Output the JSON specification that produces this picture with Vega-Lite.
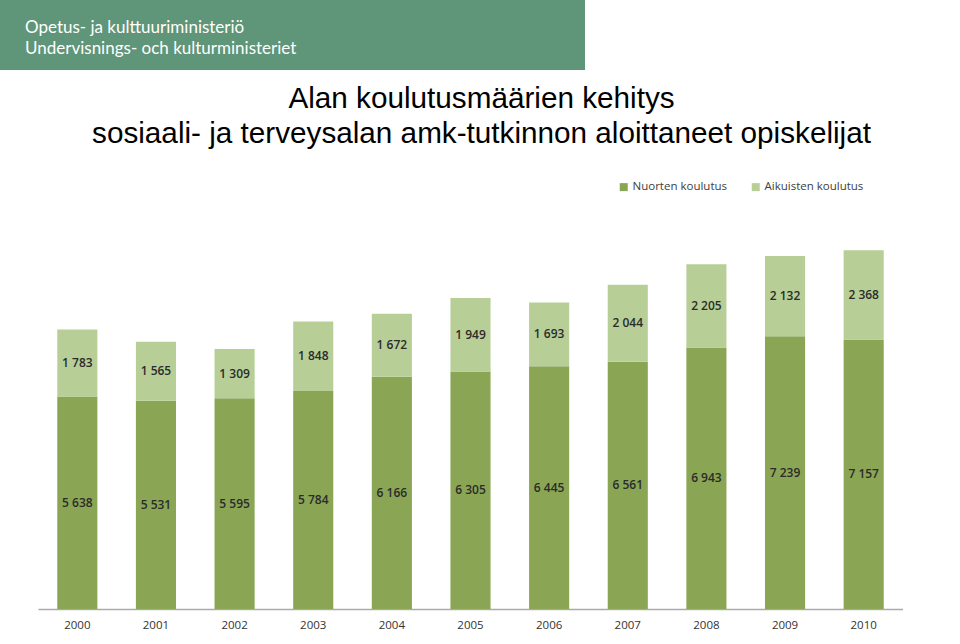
{
  "$schema": "https://vega.github.io/schema/vega-lite/v6.json",
  "padding": 0,
  "spacing": 14,
  "background": "white",
  "config": {
    "view": {"stroke": null},
    "locale": {"number": {"decimal": ",", "thousands": " ", "grouping": [3], "currency": ["", " €"]}}
  },
  "vconcat": [
    {
      "width": 585,
      "height": 70,
      "data": {"values": [{"banner": "Opetus- ja kulttuuriministeriö"}]},
      "mark": {"type": "rect", "color": "#5f9579"},
      "encoding": {},
      "title": {
        "text": ["Opetus- ja kulttuuriministeriö", "Undervisnings- och kulturministeriet"],
        "anchor": "start",
        "frame": "group",
        "orient": "top",
        "offset": -58,
        "dx": 25,
        "color": "white",
        "font": "Lato",
        "fontSize": 17,
        "fontWeight": "normal",
        "lineHeight": 21
      }
    },
    {
      "width": 903,
      "height": 437,
      "title": {
        "text": ["Alan koulutusmäärien kehitys", "sosiaali- ja terveysalan amk-tutkinnon aloittaneet opiskelijat"],
        "anchor": "middle",
        "frame": "group",
        "dx": 30,
        "offset": 22,
        "font": "Liberation Sans",
        "fontSize": 29.7,
        "fontWeight": "normal",
        "lineHeight": 35,
        "color": "black"
      },
      "data": {
        "values": [
          {"year": "2000", "type": "Nuorten koulutus", "order": 1, "value": 5638},
          {"year": "2000", "type": "Aikuisten koulutus", "order": 2, "value": 1783},
          {"year": "2001", "type": "Nuorten koulutus", "order": 1, "value": 5531},
          {"year": "2001", "type": "Aikuisten koulutus", "order": 2, "value": 1565},
          {"year": "2002", "type": "Nuorten koulutus", "order": 1, "value": 5595},
          {"year": "2002", "type": "Aikuisten koulutus", "order": 2, "value": 1309},
          {"year": "2003", "type": "Nuorten koulutus", "order": 1, "value": 5784},
          {"year": "2003", "type": "Aikuisten koulutus", "order": 2, "value": 1848},
          {"year": "2004", "type": "Nuorten koulutus", "order": 1, "value": 6166},
          {"year": "2004", "type": "Aikuisten koulutus", "order": 2, "value": 1672},
          {"year": "2005", "type": "Nuorten koulutus", "order": 1, "value": 6305},
          {"year": "2005", "type": "Aikuisten koulutus", "order": 2, "value": 1949},
          {"year": "2006", "type": "Nuorten koulutus", "order": 1, "value": 6445},
          {"year": "2006", "type": "Aikuisten koulutus", "order": 2, "value": 1693},
          {"year": "2007", "type": "Nuorten koulutus", "order": 1, "value": 6561},
          {"year": "2007", "type": "Aikuisten koulutus", "order": 2, "value": 2044},
          {"year": "2008", "type": "Nuorten koulutus", "order": 1, "value": 6943},
          {"year": "2008", "type": "Aikuisten koulutus", "order": 2, "value": 2205},
          {"year": "2009", "type": "Nuorten koulutus", "order": 1, "value": 7239},
          {"year": "2009", "type": "Aikuisten koulutus", "order": 2, "value": 2132},
          {"year": "2010", "type": "Nuorten koulutus", "order": 1, "value": 7157},
          {"year": "2010", "type": "Aikuisten koulutus", "order": 2, "value": 2368}
        ]
      },
      "encoding": {
        "x": {
          "field": "year",
          "type": "ordinal",
          "scale": {"range": [38, 903], "paddingInner": 0.49, "paddingOuter": 0.245},
          "axis": {
            "title": null,
            "labelAngle": 0,
            "ticks": false,
            "labelPadding": 10,
            "labelFont": "Open Sans",
            "labelFontSize": 11.5,
            "labelColor": "#333333",
            "domainColor": "#aaaaaa",
            "domainWidth": 1.5
          }
        }
      },
      "layer": [
        {
          "mark": {"type": "bar"},
          "encoding": {
            "y": {
              "field": "value",
              "type": "quantitative",
              "stack": "zero",
              "scale": {"domain": [0, 11600], "nice": false},
              "axis": null
            },
            "color": {
              "field": "type",
              "type": "nominal",
              "scale": {"domain": ["Nuorten koulutus", "Aikuisten koulutus"], "range": ["#8aa655", "#b7cf97"]},
              "legend": {
                "orient": "none",
                "legendX": 618,
                "legendY": 181,
                "direction": "horizontal",
                "title": null,
                "symbolType": "square",
                "symbolSize": 64,
                "symbolStrokeWidth": 0,
                "labelFont": "Open Sans",
                "labelFontSize": 11.5,
                "labelColor": "#404040",
                "columnPadding": 22,
                "labelOffset": 3
              }
            },
            "order": {"field": "order", "type": "quantitative"}
          }
        },
        {
          "transform": [
            {"stack": "value", "groupby": ["year"], "sort": [{"field": "order", "order": "ascending"}], "as": ["v0", "v1"]},
            {"fold": ["v0", "v1"], "as": ["k", "pos"]}
          ],
          "mark": {"type": "text", "font": "Open Sans", "fontSize": 12, "fontWeight": 600, "color": "#2b2b2b", "baseline": "middle"},
          "encoding": {
            "y": {"aggregate": "mean", "field": "pos", "type": "quantitative"},
            "text": {"field": "value", "type": "quantitative", "format": ","},
            "detail": {"field": "type", "type": "nominal"}
          }
        }
      ]
    }
  ]
}
